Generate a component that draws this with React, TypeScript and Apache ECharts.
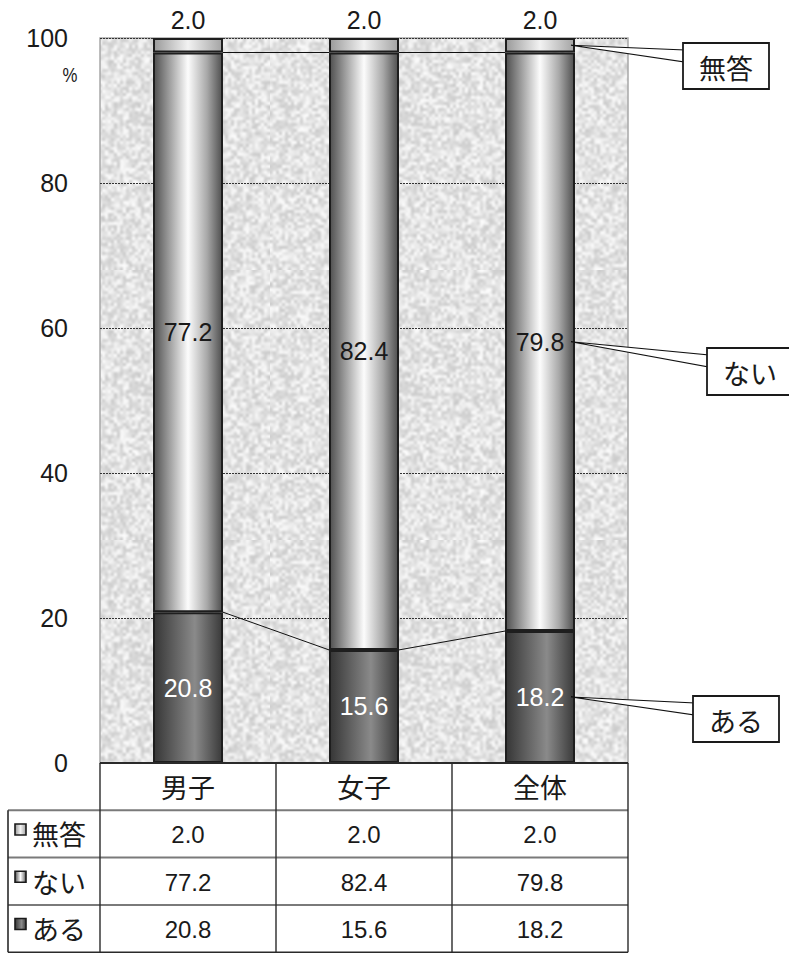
import React, { useEffect, useRef } from "react";
import * as echarts from "echarts";

// Categories and series values (%)
const categories = ["男子", "女子", "全体"];
const seriesNames = ["ある", "ない", "無答"];
const aruValues = [20.8, 15.6, 18.2];
const naiValues = [77.2, 82.4, 79.8];
const mutouValues = [2.0, 2.0, 2.0];
const yTicks = [0, 20, 40, 60, 80, 100];

const NUM_FONT = "'Liberation Sans', Arial, 'Noto Sans CJK JP', sans-serif";
const JP_FONT = "'Noto Sans CJK JP', 'Liberation Sans', sans-serif";

// Soft mottled grey texture for the plot background (deterministic generator)
function makeTexture(): string {
  const small = 90;
  const scale = 3;
  const src = document.createElement("canvas");
  src.width = small;
  src.height = small;
  const sctx = src.getContext("2d")!;
  const img = sctx.createImageData(small, small);
  let s = 987654;
  const rnd = () => {
    s = (s * 1103515245 + 12345) & 0x7fffffff;
    return s / 0x7fffffff;
  };
  for (let i = 0; i < small * small; i++) {
    const g = Math.round(204 + rnd() * 46);
    img.data[i * 4] = g;
    img.data[i * 4 + 1] = g;
    img.data[i * 4 + 2] = g;
    img.data[i * 4 + 3] = 255;
  }
  sctx.putImageData(img, 0, 0);
  const c = document.createElement("canvas");
  c.width = small * scale;
  c.height = small * scale;
  const ctx = c.getContext("2d")!;
  ctx.imageSmoothingEnabled = true;
  ctx.imageSmoothingQuality = "high";
  ctx.drawImage(src, 0, 0, small * scale, small * scale);
  return c.toDataURL();
}

const hGrad = (stops: [number, string][]) =>
  new echarts.graphic.LinearGradient(
    0, 0, 1, 0,
    stops.map(([offset, color]) => ({ offset, color }))
  );

const aruFill = () => hGrad([[0, "#363636"], [0.6, "#8a8a8a"], [1, "#3a3a3a"]]);
const naiFill = () => hGrad([[0, "#505050"], [0.5, "#fcfcfc"], [0.78, "#a8a8a8"], [1, "#505050"]]);
const mutouFill = () => hGrad([[0, "#9a9a9a"], [0.5, "#f2f2f2"], [1, "#a4a4a4"]]);

export default function App() {
  const ref = useRef<HTMLDivElement>(null);

  useEffect(() => {
    if (!ref.current) return;
    const chart = echarts.init(ref.current, null, { renderer: "svg" });
    const BAR_W = 70;
    const gridLeft = 100;
    const gridTop = 38;
    const gridW = 528;
    const gridH = 725;

    const barStyle = (fill: any) => ({
      color: fill,
      borderColor: "#1e1e1e",
      borderWidth: 2,
    });

    const numLabel = (color: string) => ({
      show: true,
      position: "inside",
      color,
      fontSize: 25,
      fontFamily: NUM_FONT,
      formatter: (p: any) => p.value.toFixed(1),
    });

    chart.setOption({
      animation: false,
      backgroundColor: "#ffffff",
      grid: {
        left: gridLeft,
        top: gridTop,
        width: gridW,
        height: gridH,
        show: true,
        backgroundColor: { image: makeTexture(), repeat: "repeat" },
        borderColor: "#a8a8a8",
        borderWidth: 1.5,
      },
      xAxis: {
        type: "category",
        data: categories,
        axisLine: { show: false },
        axisTick: { show: false },
        axisLabel: { show: false },
      },
      yAxis: {
        type: "value",
        min: yTicks[0],
        max: yTicks[yTicks.length - 1],
        interval: 20,
        axisLine: { show: false },
        axisTick: { show: false },
        axisLabel: {
          margin: 32,
          fontSize: 25,
          color: "#1a1a1a",
          fontFamily: NUM_FONT,
        },
        splitLine: {
          show: true,
          lineStyle: { color: "#333", type: [2, 1], width: 1 },
        },
      },
      series: [
        {
          name: seriesNames[0],
          type: "bar",
          stack: "total",
          barWidth: BAR_W,
          data: aruValues,
          itemStyle: barStyle(aruFill()),
          label: numLabel("#ffffff"),
          z: 3,
        },
        {
          name: seriesNames[1],
          type: "bar",
          stack: "total",
          barWidth: BAR_W,
          data: naiValues,
          itemStyle: barStyle(naiFill()),
          label: numLabel("#1a1a1a"),
          z: 3,
        },
        {
          name: seriesNames[2],
          type: "bar",
          stack: "total",
          barWidth: BAR_W,
          data: mutouValues,
          itemStyle: barStyle(mutouFill()),
          label: { ...numLabel("#1a1a1a"), position: "top", distance: 6 },
          z: 3,
        },
      ],
    });

    const px = (cat: number, v: number) =>
      chart.convertToPixel({ xAxisIndex: 0, yAxisIndex: 0 }, [cat, v]) as number[];

    const graphics: any[] = [];

    // "%" unit under the top tick
    graphics.push({
      type: "text",
      x: 70,
      y: 75,
      scaleX: 0.8,
      style: {
        text: "%",
        fontSize: 21,
        fontFamily: NUM_FONT,
        fill: "#1a1a1a",
        align: "center",
        verticalAlign: "middle",
      },
    });

    // Series lines joining the segment tops of neighbouring bars
    const tops = [
      aruValues,
      aruValues.map((v, i) => v + naiValues[i]),
    ];
    tops.forEach((arr) => {
      for (let i = 0; i < arr.length - 1; i++) {
        const a = px(i, arr[i]);
        const b = px(i + 1, arr[i + 1]);
        graphics.push({
          type: "line",
          z: 2,
          shape: { x1: a[0] + BAR_W / 2, y1: a[1], x2: b[0] - BAR_W / 2, y2: b[1] },
          style: { stroke: "#111", lineWidth: 1 },
        });
      }
    });

    // Callouts naming each segment of the last bar
    const last = categories.length - 1;
    const segCenters = [
      aruValues[last] / 2,
      aruValues[last] + naiValues[last] / 2,
      aruValues[last] + naiValues[last] + mutouValues[last] / 2,
    ];
    const boxes = [
      { x: 693, y: 696, w: 86, h: 46 },
      { x: 707, y: 348, w: 92, h: 47 },
      { x: 683, y: 43, w: 86, h: 46 },
    ];
    seriesNames.forEach((name, k) => {
      const p = px(last, segCenters[k]);
      const ax = p[0] + BAR_W / 2 - 4;
      const ay = p[1];
      const b = boxes[k];
      graphics.push({
        type: "polygon",
        z: 10,
        shape: {
          points: [
            [ax, ay],
            [b.x + 2, b.y + 7],
            [b.x + 2, b.y + 19],
          ],
        },
        style: { fill: "#ffffff", stroke: "#111", lineWidth: 1.2 },
      });
      graphics.push({
        type: "rect",
        z: 11,
        shape: { x: b.x, y: b.y, width: b.w, height: b.h },
        style: { fill: "#ffffff", stroke: "#1a1a1a", lineWidth: 1.8 },
      });
      graphics.push({
        type: "text",
        z: 12,
        x: b.x + 43,
        y: b.y + b.h / 2 + 1,
        style: {
          text: name,
          fontSize: 27,
          fontFamily: JP_FONT,
          fill: "#1a1a1a",
          align: "center",
          verticalAlign: "middle",
        },
      });
    });

    // Data table beneath the plot
    const tableTop = gridTop + gridH;
    const rowH = 47.3;
    const tableLeft = 8;
    const gridRight = gridLeft + gridW;
    const tableBottom = tableTop + rowH * 4;
    const colCenters = categories.map((_, i) => px(i, 0)[0]);
    const colEdges = [gridLeft];
    for (let i = 0; i < categories.length - 1; i++) {
      colEdges.push((colCenters[i] + colCenters[i + 1]) / 2);
    }
    colEdges.push(gridRight);

    // Horizontal rules
    graphics.push({
      type: "line",
      z: 5,
      shape: { x1: gridLeft, y1: tableTop, x2: gridRight, y2: tableTop },
      style: { stroke: "#2a2a2a", lineWidth: 2 },
    });
    for (let r = 1; r <= 4; r++) {
      const y = tableTop + rowH * r;
      graphics.push({
        type: "line",
        z: 5,
        shape: { x1: tableLeft, y1: y, x2: gridRight, y2: y },
        style: { stroke: r === 4 ? "#2a2a2a" : "#7a7a7a", lineWidth: r === 4 ? 1.6 : 2 },
      });
    }
    // Vertical rules
    colEdges.forEach((x) => {
      graphics.push({
        type: "line",
        z: 6,
        shape: { x1: x, y1: tableTop, x2: x, y2: tableBottom },
        style: { stroke: "#2a2a2a", lineWidth: 1.4 },
      });
    });
    graphics.push({
      type: "line",
      z: 6,
      shape: { x1: tableLeft, y1: tableTop + rowH, x2: tableLeft, y2: tableBottom },
      style: { stroke: "#2a2a2a", lineWidth: 1.6 },
    });

    // Header row: category names
    categories.forEach((c, i) => {
      graphics.push({
        type: "text",
        z: 7,
        x: colCenters[i],
        y: tableTop + rowH / 2,
        style: {
          text: c,
          fontSize: 27,
          fontFamily: JP_FONT,
          fill: "#1a1a1a",
          align: "center",
          verticalAlign: "middle",
        },
      });
    });

    // Value rows, top to bottom: 無答, ない, ある
    const rows = [
      { name: seriesNames[2], values: mutouValues, fill: mutouFill() },
      { name: seriesNames[1], values: naiValues, fill: naiFill() },
      { name: seriesNames[0], values: aruValues, fill: aruFill() },
    ];
    rows.forEach((row, r) => {
      const cy = tableTop + rowH * (r + 1) + rowH / 2;
      graphics.push({
        type: "rect",
        z: 7,
        shape: { x: 15, y: cy - 10, width: 11, height: 11 },
        style: { fill: row.fill, stroke: "#1a1a1a", lineWidth: 1.6 },
      });
      graphics.push({
        type: "text",
        z: 7,
        x: 32,
        y: cy,
        style: {
          text: row.name,
          fontSize: 27,
          fontFamily: JP_FONT,
          fill: "#1a1a1a",
          align: "left",
          verticalAlign: "middle",
        },
      });
      row.values.forEach((v, i) => {
        graphics.push({
          type: "text",
          z: 7,
          x: colCenters[i],
          y: cy + 1,
          style: {
            text: v.toFixed(1),
            fontSize: 24,
            fontFamily: NUM_FONT,
            fill: "#1a1a1a",
            align: "center",
            verticalAlign: "middle",
          },
        });
      });
    });

    chart.setOption({ graphic: graphics });

    return () => chart.dispose();
  }, []);

  return (
    <div
      ref={ref}
      style={{ position: "fixed", left: 0, top: 0, width: 789, height: 955, background: "#fff" }}
    />
  );
}
